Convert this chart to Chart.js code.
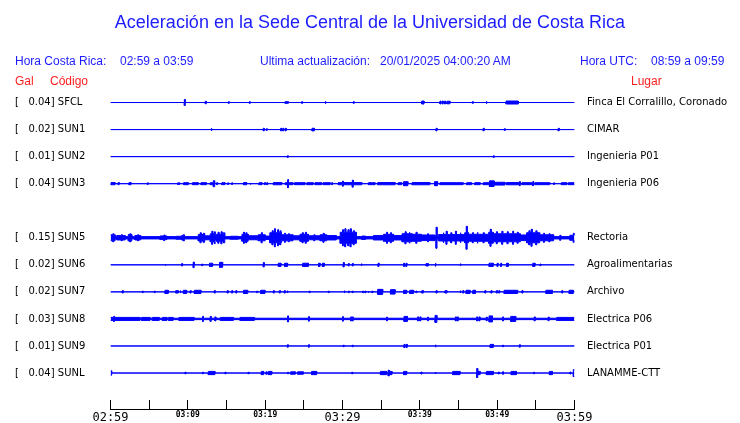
<!DOCTYPE html>
<html>
<head>
<meta charset="utf-8">
<title>Aceleración Sede Central</title>
<script src="https://cdn.jsdelivr.net/npm/chart.js@4.4.1/dist/chart.umd.min.js"></script>
<style>
    body { margin: 0; background: #fff; }
    #wrap { position: relative; width: 740px; height: 423px; overflow: hidden; }
    #wrap canvas { position: absolute; left: 0; top: 0; }
    .hd { position: absolute; font-family: "Liberation Sans", Arial, sans-serif; font-size: 12px; line-height: 12px; white-space: pre; color: #1c1cff; }
    .red { color: #ff2020; }
    #title { left: 0; width: 740px; text-align: center; top: 13px; font-size: 18px; line-height: 18px; }
</style>
</head>
<body>
<div id="wrap">
    <canvas id="sismo" width="740" height="423"></canvas>
    <div class="hd" id="title">Aceleración en la Sede Central de la Universidad de Costa Rica</div>
    <div class="hd" style="left:15px;top:55px">Hora Costa Rica:</div>
    <div class="hd" style="left:120px;top:55px">02:59 a 03:59</div>
    <div class="hd" style="left:260px;top:55px">Ultima actualización:</div>
    <div class="hd" style="left:380px;top:55px">20/01/2025 04:00:20 AM</div>
    <div class="hd" style="left:580px;top:55px">Hora UTC:</div>
    <div class="hd" style="left:651px;top:55px">08:59 a 09:59</div>
    <div class="hd red" style="left:15px;top:75px">Gal</div>
    <div class="hd red" style="left:50px;top:75px">Código</div>
    <div class="hd red" style="left:631px;top:75px">Lugar</div>
</div>
<script>
// estaciones (SUN4 sin datos: fila vacia)
const CODES = ['SFCL', 'SUN1', 'SUN2', 'SUN3', 'SUN4', 'SUN5', 'SUN6', 'SUN7', 'SUN8', 'SUN9', 'SUNL'];
const GAL = [0.04, 0.02, 0.01, 0.04, null, 0.15, 0.02, 0.02, 0.03, 0.01, 0.04];
const PLACES = ['Finca El Corralillo, Coronado', 'CIMAR', 'Ingenieria P01', 'Ingenieria P06', '',
    'Rectoria', 'Agroalimentarias', 'Archivo', 'Electrica P06', 'Electrica P01', 'LANAMME-CTT'];

// minutos desde 02:59
const TICK_MINUTES = [0, 5, 10, 15, 20, 25, 30, 35, 40, 45, 50, 55, 60];
const TICK_LABELS = ['02:59', '', '03:09', '', '03:19', '', '03:29', '', '03:39', '', '03:49', '', '03:59'];
const MAJOR_LABELS = ['02:59', '03:29', '03:59'];

// ruido de fondo por estacion (amplitud)
const FLOOR = [0, 0, 0, 0, null, 1.15, 0, 0, 0.7, 0, 0];

// eventos: [minuto, amplitud] o [inicio, fin, amplitud]
const SFCL_EV = [[9.55, 3], [12.26, 1.3], [15.24, 0.8], [17.95, 0.8], [22.57, 23.0, 0.8], [24.72, 0.8], [27.74, 1.2],
    [31.4, 0.8], [40.24, 40.54, 1.5], [42.6, 1.5], [42.9, 1.5], [43.2, 1.5], [43.5, 43.9, 1.3], [46.8, 0.8],
    [48.56, 1.2], [51.15, 52.74, 1.5]];
const SUN1_EV = [[13.0, 1.3], [19.76, 1.3], [20.15, 0.8], [22.0, 1.3], [22.27, 1.3], [22.6, 1.3], [26.06, 26.36, 1.3],
    [42.1, 1.3], [48.2, 1.3], [50.93, 0.8], [57.9, 1.3]];
const SUN2_EV = [[22.87, 0.8], [49.5, 0.8]];
const SUN3_EV = [[0.06, 0.58, 1.1], [1.0, 1.1], [2.39, 2.65, 1.1], [4.76, 0.8], [8.69, 0.8], [8.85, 8.95, 0.8],
    [9.46, 10.07, 1], [10.6, 11.35, 1], [11.7, 12.4, 1], [12.9, 13.5, 1], [13.3, 3], [13.73, 1],
    [14.4, 14.8, 1], [15.15, 0.8], [15.67, 0.8], [17.2, 17.6, 1.1], [18.04, 0.8], [19.2, 19.6, 1], [19.9, 1],
    [20.2, 1], [21.06, 22.15, 1.1], [22.6, 23.6, 1], [23.8, 25.15, 1], [22.9, 4], [25.4, 26.2, 1],
    [26.45, 27.3, 1], [27.5, 28.4, 1], [28.6, 1], [29.46, 32.5, 1.1], [30.0, 2.5], [31.27, 3.5],
    [33.35, 34.2, 1], [34.55, 36.8, 1.1], [37.2, 37.65, 1], [37.9, 38.45, 2], [39.0, 41.3, 1.1],
    [41.9, 42.3, 2], [42.6, 45.6, 1], [46.05, 46.7, 1], [47.1, 47.8, 1], [48.2, 48.9, 1],
    [49.0, 49.6, 2.8], [49.6, 51.0, 1.4], [51.2, 52.75, 1.1], [52.87, 2], [53.2, 54.5, 1], [54.6, 2],
    [54.9, 56.8, 1], [57.3, 0.8], [58.3, 59.0, 1], [59.2, 60, 1]];
const SUN5_EV = [[0, 0.6, 3], [0.3, 4], [0.8, 1.9, 2.2], [1.4, 3], [2.3, 2.75, 3.2], [2.5, 4], [3.15, 3.9, 2.2],
    [3.5, 3], [6.4, 7.3, 1.8], [6.9, 2.8], [8.5, 9.2, 1.5], [9.2, 9.6, 2.2], [9.4, 3],
    [11.35, 12.2, 3.2], [11.6, 5], [12.0, 4.5], [12.2, 12.9, 2], [12.9, 13.5, 4], [13.1, 6.5], [13.4, 6],
    [13.5, 13.7, 2.2], [13.7, 14.8, 3.5], [13.9, 5.5], [14.3, 6], [14.6, 5], [15.5, 16.5, 1.5],
    [17.0, 17.8, 3.5], [17.2, 5.5], [17.5, 5], [17.8, 19.1, 2], [19.1, 20.0, 3], [19.5, 5],
    [20.0, 20.6, 1.7], [20.6, 22.1, 5], [20.9, 7], [21.2, 9], [21.6, 8], [21.9, 7], [22.1, 23.6, 3], [22.5, 4.5],
    [23.0, 4], [23.6, 24.5, 2], [24.5, 25.6, 3.5], [24.8, 5], [25.2, 5.5], [25.6, 27.1, 2], [26.3, 3],
    [27.1, 27.95, 3], [27.5, 4.5], [27.95, 29.2, 2.2], [29.7, 31.8, 5.5], [30.0, 8], [30.3, 9], [30.7, 8],
    [31.0, 9], [31.4, 7], [32.5, 33.0, 1.7], [34.0, 35.3, 2.2], [35.3, 36.6, 3.5], [35.7, 5.5], [36.2, 5],
    [36.6, 37.7, 2.2], [37.7, 39.0, 4], [38.1, 6], [38.6, 5.5], [39.0, 40.2, 3.5], [39.5, 5.5],
    [40.2, 41.96, 2.8], [41.0, 4], [42.1, 10.5], [42.4, 45.8, 3.2], [43.0, 5], [43.4, 6.5], [44.0, 5],
    [44.6, 6.5], [45.2, 5], [45.8, 46.3, 5], [46.0, 11.5], [46.3, 48.9, 3.5], [46.8, 5], [47.4, 5.5],
    [48.2, 5], [48.9, 49.5, 5.5], [49.1, 8.5], [49.5, 53.0, 4], [49.9, 6], [50.6, 6.5], [51.3, 6], [52.0, 6.5],
    [52.6, 5.5], [53.0, 53.8, 2.8], [53.8, 55.5, 5], [54.1, 7], [54.4, 8.5], [55.0, 7], [55.5, 57.3, 3],
    [56.0, 4.5], [56.7, 4], [58.1, 2.5], [59.4, 60, 2.5], [59.85, 4.5]];
const SUN6_EV = [[7.05, 0.8], [9.2, 1.2], [10.7, 2.8], [11.8, 0.8], [12.8, 13.2, 1.6], [14.1, 14.5, 2.5], [19.76, 2.2],
    [21.7, 22.05, 1.6], [22.5, 22.9, 1.6], [24.85, 25.6, 1.6], [26.9, 27.1, 1.6], [27.4, 27.65, 1.6], [30.1, 2.2],
    [30.75, 1.2], [31.27, 1.2], [32.4, 1.2], [34.6, 1.6], [37.9, 1.6], [38.2, 1.6], [40.8, 41.1, 1.2],
    [41.97, 1.6], [45.2, 1.2], [48.95, 49.5, 1.6], [50.0, 1.6], [50.45, 1.6], [51.2, 51.45, 1.6],
    [54.6, 54.9, 1.6], [55.55, 0.8]];
const SUN7_EV = [[1.53, 1.2], [4.12, 0.8], [5.67, 0.8], [7.05, 7.48, 1.6], [8.43, 8.77, 1.2], [8.99, 1.2],
    [9.42, 9.85, 1.6], [10.3, 1.2], [10.84, 11.7, 1.6], [13.43, 1.2], [15.1, 1.2], [15.67, 1.2], [16.2, 1.2],
    [17.2, 17.74, 1.6], [18.9, 0.8], [19.42, 19.98, 1.6], [21.06, 1.2], [21.84, 1.2], [22.48, 1.2], [22.83, 1.2],
    [25.7, 0.8], [28.17, 0.8], [30.2, 1.2], [30.76, 0.8], [31.27, 0.8], [32.6, 0.8], [32.9, 0.8], [33.3, 0.8],
    [33.8, 0.8], [34.55, 35.2, 2.5], [36.2, 36.8, 2.2], [37.9, 38.3, 1.6], [38.7, 39.2, 1.6], [39.5, 0.8],
    [40.25, 40.45, 1.2], [42.1, 1.2], [43.25, 43.5, 1.2], [45.2, 1.2], [45.55, 1.2], [45.97, 46.5, 1.6],
    [46.85, 47.2, 1.6], [48.4, 1.2], [49.2, 1.2], [49.9, 1.2], [50.2, 1.2], [50.9, 52.65, 1.6], [53.2, 1.2],
    [56.3, 57.15, 1.6], [58.35, 1.2], [59.3, 59.85, 1.6]];
const SUN8_EV = [[0, 3.8, 1.5], [0.4, 2.5], [4.0, 5.1, 1.5], [5.4, 6.3, 1.5], [6.7, 7.3, 1.5], [7.5, 8.1, 1.5],
    [8.85, 10.8, 1.5], [11.9, 2.5], [12.9, 2.5], [13.5, 2], [14.2, 15.9, 1.5], [16.75, 18.6, 1.5], [22.9, 3],
    [25.6, 2.2], [30.0, 2.2], [31.05, 2], [31.27, 2], [35.7, 1.8], [37.95, 38.4, 2.5], [39.7, 2], [40.0, 2],
    [41.0, 1.8], [41.97, 42.2, 3.5], [44.6, 2], [44.85, 2], [47.35, 2], [47.65, 2], [48.6, 1.8],
    [48.95, 49.4, 3], [50.7, 2], [51.75, 52.4, 2.5], [54.8, 2], [56.6, 1.8], [57.7, 60, 1.5]];
const SUN9_EV = [[22.87, 1.2], [25.6, 1.2], [30.1, 0.8], [31.27, 0.8], [37.95, 1.6], [38.25, 1.6], [41.97, 1.2],
    [49.1, 49.5, 1.6], [50.7, 0.8], [52.87, 1.2]];
const SUNL_EV = [[0, 0.15, 2.2], [9.63, 0.8], [11.9, 0.8], [12.65, 13.5, 1.6], [14.8, 0.8], [17.8, 0.8],
    [19.5, 19.8, 1.6], [20.1, 1.2], [20.4, 20.85, 1.6], [22.9, 0.8], [23.3, 23.9, 1.2], [24.2, 24.94, 1.2],
    [26.0, 26.66, 1.6], [31.2, 0.8], [34.9, 35.7, 1.6], [35.9, 2.8], [36.1, 36.4, 1.6], [37.9, 38.3, 1.6],
    [40.15, 1], [41.97, 1], [44.25, 45.2, 1.6], [47.35, 4.5], [47.5, 47.8, 1.6], [48.6, 49.5, 1.6], [50.15, 1],
    [50.7, 1.2], [51.8, 52.5, 1.6], [54.7, 0.8], [56.75, 57.15, 1.6], [59.4, 1], [59.85, 60, 3.5]];

const EVENTS = [SFCL_EV, SUN1_EV, SUN2_EV, SUN3_EV, null, SUN5_EV, SUN6_EV, SUN7_EV, SUN8_EV, SUN9_EV, SUNL_EV];

const ROW_SPAN = 27;     // unidades de amplitud entre filas
const SPIKE_W = 0.12;    // ancho de un pico aislado (min)
const TRACE = '#0000ff';

// envolvente escalonada: maximo de los eventos en cada tramo
function envelope(events, floor) {
    const spans = events.map(e => e.length === 2 ? [e[0], e[0] + SPIKE_W, e[1]] : e)
        .map(s => [Math.max(0, s[0]), Math.min(60, s[1]), s[2]]);
    const cuts = [...new Set([0, 60, ...spans.flatMap(s => [s[0], s[1]])])].sort((a, b) => a - b);
    const pts = [];
    for (let i = 0; i < cuts.length - 1; i++) {
        const mid = (cuts[i] + cuts[i + 1]) / 2;
        let a = floor;
        spans.forEach(s => { if (s[0] <= mid && mid < s[1]) a = Math.max(a, s[2]); });
        pts.push({ x0: cuts[i], x1: cuts[i + 1], a });
    }
    return pts;
}

const datasets = [];
EVENTS.forEach((ev, row) => {
    if (!ev) return;
    const env = envelope(ev, FLOOR[row]);
    const side = sign => env.flatMap(p => [
        { x: p.x0, y: row + sign * p.a / ROW_SPAN },
        { x: p.x1, y: row + sign * p.a / ROW_SPAN }
    ]);
    datasets.push({ label: CODES[row], data: side(-1), fill: false });
    datasets.push({ label: CODES[row] + '-', data: side(1), fill: '-1' });
});
datasets.forEach(d => Object.assign(d, {
    borderColor: TRACE, backgroundColor: TRACE, borderWidth: 1,
    pointRadius: 0, tension: 0
}));

const stationRows = CODES.map((c, i) => i).filter(i => EVENTS[i]);
const rowTicks = scale => { scale.ticks = stationRows.map(v => ({ value: v })); };
const fitY = width => s => { s.width = width; s.paddingTop = 0; s.paddingBottom = 0; };

new Chart(document.getElementById('sismo'), {
    type: 'line',
    data: { datasets },
    options: {
        responsive: false,
        animation: false,
        devicePixelRatio: 1,
        layout: { padding: { left: 15, top: 89, right: 0, bottom: 0 } },
        plugins: { legend: { display: false }, tooltip: { enabled: false }, title: { display: false } },
        scales: {
            x: {
                type: 'linear', min: 0, max: 60,
                afterBuildTicks: s => { s.ticks = TICK_MINUTES.map(v => ({ value: v })); },
                afterFit: s => { s.height = 14; },
                grid: { drawOnChartArea: false, tickLength: -9, color: '#000', lineWidth: 1 },
                border: { display: true, color: '#000', width: 1 },
                ticks: {
                    autoSkip: false, maxRotation: 0, padding: 10.5, color: '#000',
                    callback: (v, i) => TICK_LABELS[i],
                    font: ctx => MAJOR_LABELS.includes(TICK_LABELS[ctx.index])
                        ? { family: '"DejaVu Sans Mono", monospace', size: 12 }
                        : { family: '"DejaVu Sans Mono", monospace', size: 8, weight: 'bold' }
                }
            },
            y: {
                type: 'linear', position: 'left', reverse: true, min: -0.5, max: 11.33,
                afterBuildTicks: rowTicks,
                afterFit: fitY(95.5),
                grid: { display: false, drawTicks: false }, border: { display: false },
                ticks: {
                    crossAlign: 'far', padding: 0, color: '#000',
                    font: { family: '"DejaVu Sans", sans-serif', size: 10 },
                    callback: v => '[   ' + GAL[v].toFixed(2) + '] ' + CODES[v]
                }
            },
            yR: {
                type: 'linear', position: 'right', reverse: true, min: -0.5, max: 11.33,
                afterBuildTicks: rowTicks,
                afterFit: fitY(165.5),
                grid: { display: false, drawTicks: false }, border: { display: false },
                ticks: {
                    crossAlign: 'near', padding: 12.5, color: '#000',
                    font: { family: '"DejaVu Sans", sans-serif', size: 10 },
                    callback: v => PLACES[v]
                }
            }
        }
    }
});
</script>
</body>
</html>
